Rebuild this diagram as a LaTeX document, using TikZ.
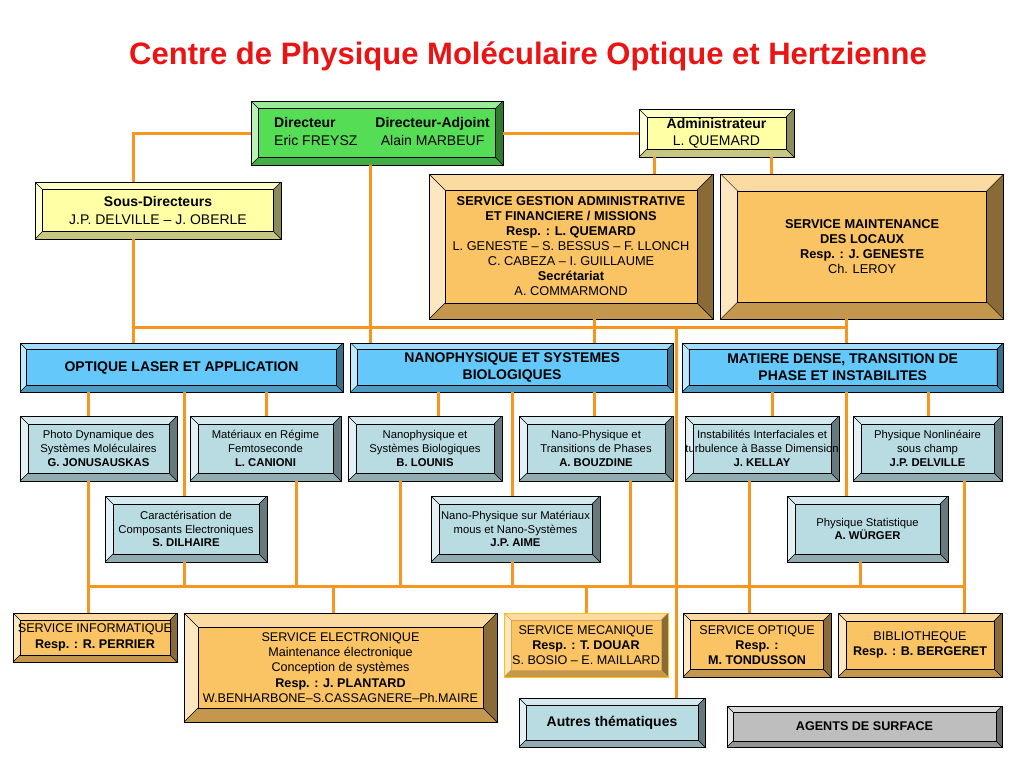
\documentclass[tikz,border=0pt]{standalone}
\usepackage{fontspec}
\setmainfont{Liberation Sans}
\usepackage{xcolor}
\usepackage{tikz}
\usetikzlibrary{positioning}
\definecolor{cpmohorange}{RGB}{247,150,30}
\definecolor{cpmohgreen}{RGB}{85,222,85}
\definecolor{cpmohyellow}{RGB}{255,255,165}
\definecolor{cpmohsand}{RGB}{250,195,100}
\definecolor{cpmohblue}{RGB}{100,200,250}
\definecolor{cpmohpale}{RGB}{185,220,226}
\definecolor{cpmohgray}{RGB}{190,190,190}
\definecolor{cpmohred}{RGB}{235,20,20}
\tikzset{bevel width/.store in=\bevw, bevel width=8pt,
  bevel line/.store in=\bevl, bevel line=black}

\begin{document}
\begin{tikzpicture}[
    x=1pt, y=-1pt,
    box/.style={rectangle, draw=black, line width=0.6pt, fill=#1, inner sep=0pt, align=center,
      path picture={
        \path (path picture bounding box.north west) coordinate (bnw)
              (path picture bounding box.north east) coordinate (bne)
              (path picture bounding box.south west) coordinate (bsw)
              (path picture bounding box.south east) coordinate (bse);
        \fill[#1!60!white] (bnw) -- (bne) -- ([shift={(-\bevw,-\bevw)}]bne) -- ([shift={(\bevw,-\bevw)}]bnw) -- cycle;
        \fill[#1!40!white] (bnw) -- (bsw) -- ([shift={(\bevw,\bevw)}]bsw) -- ([shift={(\bevw,-\bevw)}]bnw) -- cycle;
        \fill[#1!78!black] (bsw) -- (bse) -- ([shift={(-\bevw,\bevw)}]bse) -- ([shift={(\bevw,\bevw)}]bsw) -- cycle;
        \fill[#1!55!black] (bne) -- (bse) -- ([shift={(-\bevw,\bevw)}]bse) -- ([shift={(-\bevw,-\bevw)}]bne) -- cycle;
        \draw[\bevl, line width=0.4pt] ([shift={(\bevw,-\bevw)}]bnw) rectangle ([shift={(-\bevw,\bevw)}]bse);
        \draw[\bevl, line width=0.4pt] (bnw) -- ++(\bevw,-\bevw) (bne) -- ++(-\bevw,-\bevw)
              (bsw) -- ++(\bevw,\bevw) (bse) -- ++(-\bevw,\bevw);
      }},
    dims/.style 2 args={minimum width=#1pt, minimum height=#2pt},
    lead/.style={box=cpmohgreen, font=\fontsize{14}{17.7}\selectfont},
    staff/.style={box=cpmohyellow, font=\fontsize{14}{17.3}\selectfont},
    serv/.style={box=cpmohsand, font=\fontsize{12.8}{15}\selectfont},
    unit/.style={box=cpmohsand, font=\fontsize{12.6}{15.3}\selectfont},
    pole/.style={box=cpmohblue, font=\bfseries\fontsize{14}{16.7}\selectfont, bevel width=6.5pt},
    team/.style={box=cpmohpale, font=\fontsize{11.3}{13.7}\selectfont},
    link/.style={draw=cpmohorange, line width=3pt}
  ]
    \path[use as bounding box, fill=white] (0,0) rectangle (1024,768);

    \node[font=\bfseries\fontsize{31}{36}\selectfont, text=cpmohred] (title) at (528,56)
      {Centre de Physique Moléculaire Optique et Hertzienne};

    % direction
    \node[lead, dims={252}{64}, bevel width=7.5pt] (dir) at (377,133)
      {\hspace*{10pt}\begin{tabular}{@{}l@{\hspace{18pt}}c@{}}
        \textbf{Directeur} & \textbf{Directeur-Adjoint}\\
        Eric FREYSZ & Alain MARBEUF
      \end{tabular}};
    \node[staff, dims={155}{48}] (admin) at (716.5,133) {\textbf{Administrateur}\\L. QUEMARD};
    \node[staff, dims={246}{57}, bevel width=7.5pt] (sousdir) at (158,210.5)
      {\textbf{Sous-Directeurs}\\J.P. DELVILLE – J. OBERLE};

    \node[serv, dims={284}{145}, bevel width=16pt] (sgam) at (571,246.5)
      {\textbf{SERVICE GESTION ADMINISTRATIVE}\\\textbf{ET FINANCIERE / MISSIONS}\\\textbf{Resp. : L. QUEMARD}\\
       L. GENESTE – S. BESSUS – F. LLONCH\\C. CABEZA – I. GUILLAUME\\\textbf{Secrétariat}\\A. COMMARMOND};
    \node[serv, dims={283}{145}, bevel width=17pt, right=7pt of sgam] (smaint)
      {\textbf{SERVICE MAINTENANCE}\\\textbf{DES LOCAUX}\\\textbf{Resp. : J. GENESTE}\\Ch. LEROY};

    % departements
    \node[pole, dims={323}{49}] (optique) at (181.5,367.5) {OPTIQUE LASER ET APPLICATION};
    \node[pole, dims={323}{49}, right=7pt of optique] (nano) {NANOPHYSIQUE ET SYSTEMES\\BIOLOGIQUES};
    \node[pole, dims={321}{49}, right=8pt of nano] (matiere) {MATIERE DENSE, TRANSITION DE\\PHASE ET INSTABILITES};

    % equipes
    \node[team, dims={157}{65}] (photo) at (98.5,448.5)
      {Photo Dynamique des\\Systèmes Moléculaires\\\textbf{G. JONUSAUSKAS}};
    \node[team, dims={151}{65}] (materiaux) at (265.5,448.5)
      {Matériaux en Régime\\Femtoseconde\\\textbf{L. CANIONI}};
    \node[team, dims={154}{65}] (nanosys) at (425,448.5)
      {Nanophysique et\\Systèmes Biologiques\\\textbf{B. LOUNIS}};
    \node[team, dims={154}{65}] (nanotrans) at (596,448.5)
      {Nano-Physique et\\Transitions de Phases\\\textbf{A. BOUZDINE}};
    \node[team, dims={154}{65}] (instab) at (762,448.5)
      {Instabilités Interfaciales et\\turbulence à Basse Dimension\\\textbf{J. KELLAY}};
    \node[team, dims={149}{65}] (nonlin) at (927.5,448.5)
      {Physique Nonlinéaire\\sous champ\\\textbf{J.P. DELVILLE}};
    \node[team, dims={162}{66}] (caract) at (186,529)
      {Caractérisation de\\Composants Electroniques\\\textbf{S. DILHAIRE}};
    \node[team, dims={169}{66}] (nanomous) at (515.5,529)
      {Nano-Physique sur Matériaux\\mous et Nano-Systèmes\\\textbf{J.P. AIME}};
    \node[team, dims={161}{66}] (stat) at (867.5,529)
      {Physique Statistique\\\textbf{A. WÜRGER}};

    % services techniques
    \node[unit, dims={164}{49}, bevel width=7pt] (sinfo) at (95,637.5)
      {SERVICE INFORMATIQUE\\\textbf{Resp. : R. PERRIER}};
    \node[unit, dims={313}{109}, bevel width=14pt] (selec) at (340.5,667.5)
      {SERVICE ELECTRONIQUE\\Maintenance électronique\\Conception de systèmes\\\textbf{Resp. : J. PLANTARD}\\
       W.BENHARBONE–S.CASSAGNERE–Ph.MAIRE};
    \node[unit, dims={164}{64}, bevel width=7pt, draw=cpmohorange!60!yellow, line width=1pt,
          bevel line=cpmohsand!85!black] (smeca) at (586,645)
      {SERVICE MECANIQUE\\\textbf{Resp. : T. DOUAR}\\S. BOSIO – E. MAILLARD};
    \node[unit, dims={148}{64}, bevel width=7.5pt] (sopt) at (757,645)
      {SERVICE OPTIQUE\\\textbf{Resp. :}\\\textbf{M. TONDUSSON}};
    \node[unit, dims={164}{64}] (biblio) at (920,645)
      {BIBLIOTHEQUE\\\textbf{Resp. : B. BERGERET}};
    \node[team, dims={186}{49}, bevel width=7pt, font=\bfseries\fontsize{14}{17}\selectfont] (autres) at (612,722.5)
      {Autres thématiques};
    \node[box=cpmohgray, dims={275}{41}, bevel width=6pt, font=\bfseries\fontsize{12.6}{15}\selectfont] (agents) at (864.5,726.5)
      {AGENTS DE SURFACE};

    % rails
    \coordinate (top1) at (133,327);
    \coordinate (top2) at (370,327);
    \coordinate (top3) at (594,327);
    \coordinate (top4) at (676,327);
    \coordinate (top5) at (846,327);
    \coordinate (adm1) at (654,166);
    \coordinate (adm2) at (771,166);
    \coordinate (col1) at (266,404);
    \coordinate (col2) at (438,404);
    \coordinate (col3) at (772,404);
    \coordinate (col4) at (928,404);
    \coordinate (low1) at (88,586);
    \coordinate (low2) at (184,586);
    \coordinate (low3) at (296,586);
    \coordinate (low4) at (333,586);
    \coordinate (low5) at (400,586);
    \coordinate (low6) at (512,586);
    \coordinate (low7) at (586,586);
    \coordinate (low8) at (630,586);
    \coordinate (low9) at (749,586);
    \coordinate (low10) at (860,586);
    \coordinate (low11) at (964,586);

    \draw[link] (dir.east) -- (admin.west);
    \draw[link] (dir.west) -| (sousdir.north -| top1);
    \draw[link] (admin.south -| adm1) -- (sgam.north -| adm1);
    \draw[link] (admin.south -| adm2) -- (smaint.north -| adm2);
    \draw[link] (top1) -- (top5);
    \draw[link] (sousdir.south -| top1) -- (optique.north -| top1);
    \draw[link] (dir.south -| top2) -- (nano.north -| top2);
    \draw[link] (sgam.south -| top3) -- (nano.north -| top3);
    \draw[link] (smaint.south -| top5) -- (matiere.north -| top5);
    \draw[link] (top4) -- (autres.north -| top4);

    \draw[link] (optique.south -| low1) -- (photo.north -| low1);
    \draw[link] (optique.south -| low2) -- (caract.north -| low2);
    \draw[link] (optique.south -| col1) -- (materiaux.north -| col1);
    \draw[link] (nano.south -| col2) -- (nanosys.north -| col2);
    \draw[link] (nano.south -| low6) -- (nanomous.north -| low6);
    \draw[link] (nano.south -| top3) -- (nanotrans.north -| top3);
    \draw[link] (matiere.south -| col3) -- (instab.north -| col3);
    \draw[link] (matiere.south -| top5) -- (stat.north -| top5);
    \draw[link] (matiere.south -| col4) -- (nonlin.north -| col4);

    \draw[link] (low1) -- (low11);
    \draw[link] (photo.south -| low1) -- (sinfo.north -| low1);
    \draw[link] (caract.south -| low2) -- (low2);
    \draw[link] (materiaux.south -| low3) -- (low3);
    \draw[link] (low4) -- (selec.north -| low4);
    \draw[link] (nanosys.south -| low5) -- (low5);
    \draw[link] (nanomous.south -| low6) -- (low6);
    \draw[link] (low7) -- (smeca.north -| low7);
    \draw[link] (nanotrans.south -| low8) -- (low8);
    \draw[link] (instab.south -| low9) -- (sopt.north -| low9);
    \draw[link] (stat.south -| low10) -- (low10);
    \draw[link] (nonlin.south -| low11) -- (biblio.north -| low11);
  \end{tikzpicture}
\end{document}
